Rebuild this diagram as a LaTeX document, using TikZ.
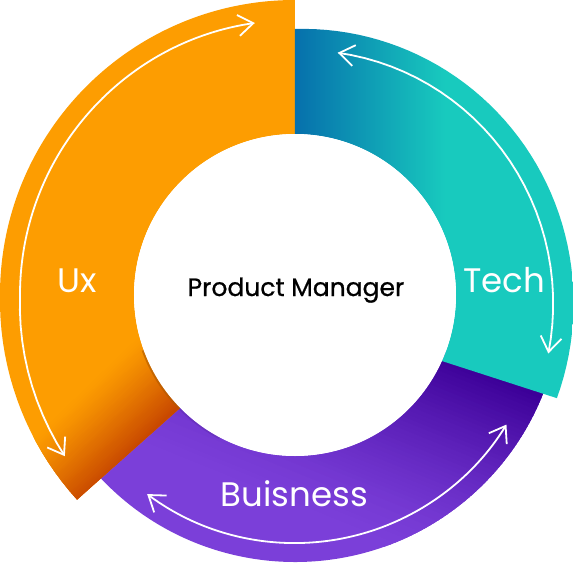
\documentclass[tikz,border=0pt]{standalone}
\usepackage{fontspec}
\setmainfont{Poppins}
\usetikzlibrary{arrows.meta}
\definecolor{orA}{HTML}{FD9D01}
\definecolor{orB}{HTML}{C84800}
\definecolor{orS}{HTML}{B05A00}
\definecolor{tlA}{HTML}{0670AC}
\definecolor{tlB}{HTML}{18CABE}
\definecolor{puA}{HTML}{7B3FD9}
\definecolor{puB}{HTML}{3C0098}
\definecolor{puS}{HTML}{5A2AA8}
\begin{document}
\begin{tikzpicture}[x=1pt,y=1pt,
  twoway/.style={draw=white, line width=1.8pt, {Straight Barb[length=15pt,width=21pt]}-{Straight Barb[length=15pt,width=21pt]}},
  seglabel/.style={text=white, font=\fontsize{34}{34}\selectfont, anchor=base, inner sep=0pt}]
\useasboundingbox (-295,-268) rectangle (278,295);
% Business (purple)
\begin{scope}
  \clip (220:161) -- (220:267) arc[start angle=220,end angle=340,radius=267] -- (340:161) arc[start angle=340,end angle=220,radius=161] -- cycle;
  \fill[puA] (-300,-300) rectangle (300,300);
  \foreach \i in {0,...,49} {
    \pgfmathsetmacro\ss{-200+200*\i/50}
    \pgfmathtruncatemacro\pp{100*(\i/49)^1.4}
    \fill[rotate=68, puB!\pp!puA] (\ss,-400) rectangle ({\ss+6},400);
  }
  \fill[rotate=68, puB] (0,-400) rectangle (300,400);
\end{scope}
% Ux (orange)
\begin{scope}
  \clip (90:161) -- (90:295) arc[start angle=90,end angle=180,radius=295] -- plot[domain=180:223.2,samples=20] ({\x}:{295+4*(\x-180)/43.2}) -- (224.5:161) arc[start angle=224.5,end angle=90,radius=161] -- cycle;
  \fill[orA] (-300,-300) rectangle (300,300);
  \foreach \i in {0,...,39} {
    \pgfmathsetmacro\ss{-80+80*\i/40}
    \pgfmathtruncatemacro\pp{100*(\i/39)^1.2}
    \fill[rotate=-46, orB!\pp!orA] (\ss,-400) rectangle ({\ss+4},400);
  }
  \fill[rotate=-46, orB] (0,-400) rectangle (300,400);
\end{scope}
% Tech (teal)
\begin{scope}
  \clip (90:161) -- (90:266) -- plot[domain=90:-21.5,samples=50] ({\x}:{266+15.5*(90-\x)/111.5}) -- (-24.2:161) arc[start angle=-24.2,end angle=90,radius=161] -- cycle;
  \shade[left color=tlA, right color=tlB] (0,-300) rectangle (150,300);
  \fill[tlB] (150,-300) rectangle (300,300);
\end{scope}
% inner shadows
\draw[orS, line width=2.2pt, opacity=0.6] (200:162) arc[start angle=200,end angle=224.5,radius=162];
\draw[puS, line width=1.8pt, opacity=0.4] (224.5:162) arc[start angle=224.5,end angle=242,radius=162];
% arrows
\draw[twoway] (98.4:275) arc[start angle=98.4,end angle=180,radius=275] -- plot[domain=180:215,samples=12] ({\x}:{275+6*(\x-180)/35});
\draw[twoway] plot[domain=80:-13,samples=30] ({\x}:{246+14*(80-\x)/93});
\draw[twoway] (233.4:248) arc[start angle=233.4,end angle=328.5,radius=248];
% hub and labels
\node[circle, fill=white, minimum size=322pt, inner sep=0pt] (hub) at (0,0) {};
\node[anchor=base, inner sep=0pt, font=\fontsize{25}{25}\selectfont\addfontfeature{FakeBold=0.8}] (pm) at (1,-1) {Product Manager};
\node[seglabel] (ux) at (-217.5,3) {Ux};
\node[seglabel] (tech) at (209,3) {Tech};
\node[seglabel] (biz) at (-0.5,-211) {Buisness};
\end{tikzpicture}
\end{document}
